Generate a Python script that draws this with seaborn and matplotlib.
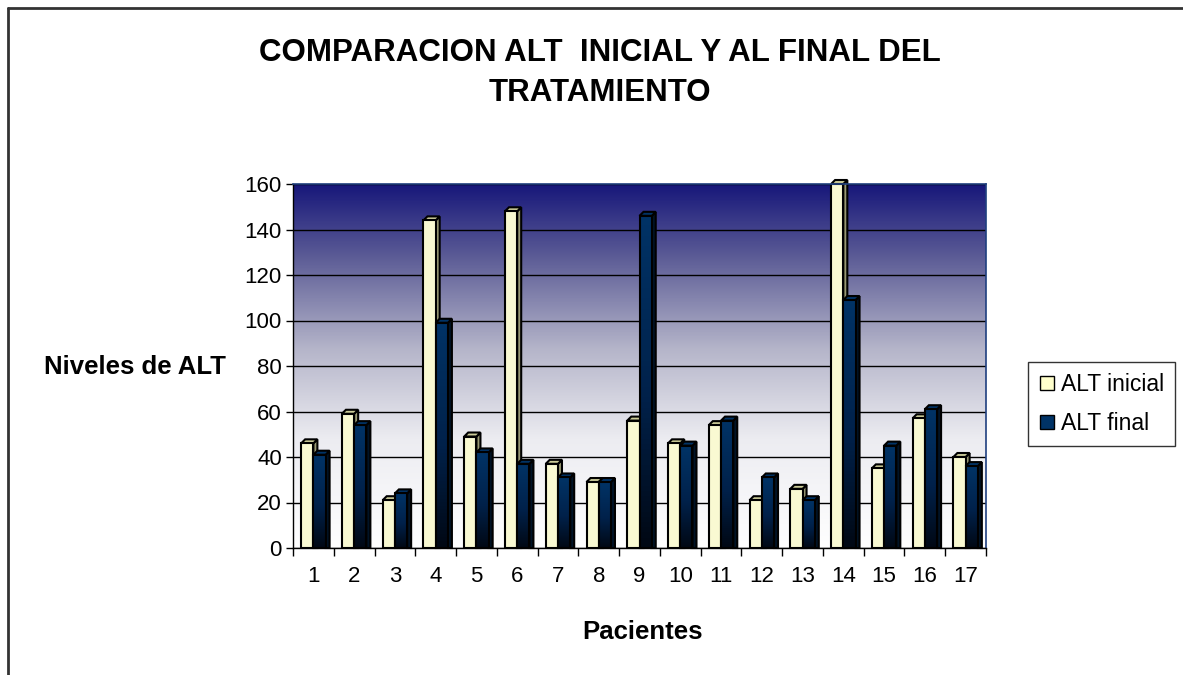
import numpy as np
import pandas as pd
import seaborn as sns
import matplotlib.pyplot as plt
from matplotlib.colors import LinearSegmentedColormap
from matplotlib.patches import Polygon, Patch
from matplotlib.lines import Line2D

sns.set_style("ticks")
plt.rcParams['font.family'] = ['Liberation Sans', 'DejaVu Sans']
plt.rcParams['text.color'] = 'black'
plt.rcParams['axes.labelcolor'] = 'black'
plt.rcParams['xtick.color'] = 'black'
plt.rcParams['ytick.color'] = 'black'

pacientes = [str(i) for i in range(1, 18)]
alt_inicial = [46, 59, 21, 144, 49, 148, 37, 29, 56, 46, 54, 21, 26, 160, 35, 57, 40]
alt_final = [41, 54, 24, 99, 42, 37, 31, 29, 146, 45, 56, 31, 21, 109, 45, 61, 36]
series = ['ALT inicial', 'ALT final']

df = pd.DataFrame({
    'paciente': pacientes * 2,
    'serie': [series[0]] * len(pacientes) + [series[1]] * len(pacientes),
    'valor': alt_inicial + alt_final,
})

amarillo = '#ffffcc'
azul = '#003366'

W, H = 1183, 675
fig = plt.figure(figsize=(W / 100, H / 100), dpi=100)
ax = fig.add_axes([293 / W, 1 - 548 / H, (986 - 293) / W, (548 - 184) / H])

# fondo degradado del area de trazado
fondo = LinearSegmentedColormap.from_list(
    'fondo', [(0, '#ffffff'), (0.3, '#ececf1'), (0.55, '#b4b4c9'),
              (0.8, '#5c5c96'), (1, '#17177a')])
ax.imshow(np.linspace(0, 1, 256).reshape(-1, 1), extent=[0, 1, 0, 1],
          transform=ax.transAxes, origin='lower', cmap=fondo, aspect='auto', zorder=0)

sns.barplot(data=df, x='paciente', y='valor', hue='serie', order=pacientes,
            hue_order=series, palette=[amarillo, azul], width=0.6,
            edgecolor='black', linewidth=1.5, legend=False, ax=ax)

xlim = (-0.5, len(pacientes) - 0.5)
ylim = (0, 160)
ax.set_xlim(xlim)
ax.set_ylim(ylim)

# profundidad de 4 px para el efecto 3D
ax_w = (986 - 293)
ax_h = (548 - 184)
dx = 4 * (xlim[1] - xlim[0]) / ax_w
dy = 4 * (ylim[1] - ylim[0]) / ax_h

grad_azul = LinearSegmentedColormap.from_list(
    'grad_azul', [(0, '#000814'), (0.45, '#00214a'), (1, '#003366')])

estilos = [
    dict(top='#cccc99', side='#999973', z=2),
    dict(top='#003366', side='#001326', z=3),
]

for cont, est in zip(ax.containers, estilos):
    for bar in cont:
        x0, w, h = bar.get_x(), bar.get_width(), bar.get_height()
        x1 = x0 + w
        z = est['z']
        bar.set_zorder(z + 0.2)
        if est['z'] == 3:
            bar.set_facecolor('none')
            ax.imshow(np.linspace(0, 1, 64).reshape(-1, 1), extent=[x0, x1, 0, h],
                      origin='lower', cmap=grad_azul, aspect='auto', zorder=z + 0.1)
        ax.add_patch(Polygon([(x1, 0), (x1, h), (x1 + dx, h + dy), (x1 + dx, 0)],
                             closed=True, fc=est['side'], ec='black', lw=1.5,
                             zorder=z, clip_on=False))
        ax.add_patch(Polygon([(x0, h), (x1, h), (x1 + dx, h + dy), (x0 + dx, h + dy)],
                             closed=True, fc=est['top'], ec='black', lw=1.5,
                             zorder=z, clip_on=False))

ax.set_xlim(xlim)
ax.set_ylim(ylim)

ax.set_yticks(range(0, 161, 20))
ax.yaxis.grid(True, color='black', lw=1)
ax.xaxis.grid(False)
ax.set_axisbelow(True)

ax.tick_params(axis='y', which='major', direction='out', length=5, width=1,
               color='black', labelsize=16, pad=3)
ax.tick_params(axis='x', which='major', length=0, labelsize=16, pad=13)
ax.set_xticks(np.arange(-0.5, len(pacientes), 1), minor=True)
ax.tick_params(axis='x', which='minor', direction='out', length=6, width=1, color='black')

for s in ['left', 'bottom']:
    ax.spines[s].set_color('black')
    ax.spines[s].set_linewidth(1)
for s in ['top', 'right']:
    ax.spines[s].set_color('#1f3f7f')
    ax.spines[s].set_linewidth(1.2)

ax.set_xlabel('Pacientes', fontsize=18.5, fontweight='bold')
ax.xaxis.set_label_coords((643 - 293) / ax_w, (548 - 620) / ax_h)
ax.set_ylabel('Niveles de ALT', fontsize=18.5, fontweight='bold', rotation=0,
              ha='center', va='center')
ax.yaxis.set_label_coords((135 - 293) / ax_w, (548 - 367) / ax_h)

fig.text(600 / W, 1 - 73 / H, 'COMPARACION ALT  INICIAL Y AL FINAL DEL\nTRATAMIENTO',
         ha='center', va='center', fontsize=22.5, fontweight='bold', linespacing=1.45)

handles = [Patch(facecolor=amarillo, edgecolor='black', lw=1),
           Patch(facecolor=azul, edgecolor='black', lw=1)]
leg = fig.legend(handles, series, loc='center left',
                 bbox_to_anchor=(1017 / W, 1 - 404 / H), fontsize=16.5,
                 frameon=True, fancybox=False, edgecolor='black',
                 handlelength=0.6, handleheight=0.6, handletextpad=0.3,
                 borderpad=0.5, labelspacing=0.7)
leg.get_frame().set_linewidth(1)

# marco del grafico
fig.add_artist(Line2D([8 / W, 1], [1 - 8 / H, 1 - 8 / H], transform=fig.transFigure,
                      color='#333333', lw=2))
fig.add_artist(Line2D([8 / W, 8 / W], [0, 1 - 8 / H], transform=fig.transFigure,
                      color='#333333', lw=2))

fig.savefig('out.png', dpi=100)
